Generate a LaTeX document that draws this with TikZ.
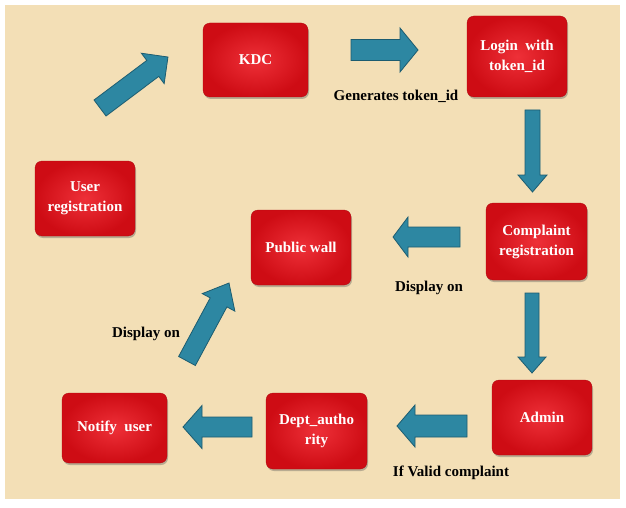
\documentclass[tikz,border=0pt]{standalone}
\usepackage{fontspec}
\setmainfont{Liberation Serif}
\usetikzlibrary{shadows}
\definecolor{bgbeige}{RGB}{243,223,182}
\definecolor{boxredin}{RGB}{238,48,56}
\definecolor{boxredout}{RGB}{206,12,20}
\definecolor{arrowteal}{RGB}{45,135,162}
\definecolor{arrowedge}{RGB}{28,92,112}
\newcommand\barrow[7]{%
  \pgfmathsetmacro\bang{atan2(-(#4-#2),#3-#1)}%
  \pgfmathsetmacro\blen{veclen(#3-#1,#4-#2)}%
  \begin{scope}[shift={(#1,#2)},rotate=\bang]
    \draw[blockarrow] (0,-#5/2) -- (\blen-#7,-#5/2) -- (\blen-#7,-#6/2) -- (\blen,0)
      -- (\blen-#7,#6/2) -- (\blen-#7,#5/2) -- (0,#5/2) -- cycle;
  \end{scope}}
\begin{document}
\begin{tikzpicture}[x=1pt,y=-1pt,
  redbox/.style={rounded corners=7pt, inner color=boxredin, outer color=boxredout,
    draw=boxredout!85!black, line width=0.3pt,
    drop shadow={shadow xshift=1pt,shadow yshift=-2pt,opacity=0.35,fill=black!70},
    text=white, font=\fontsize{15}{20}\selectfont\bfseries, align=center, inner sep=0pt},
  lbl/.style={font=\fontsize{15}{18}\selectfont\bfseries, text=black, inner sep=0pt},
  blockarrow/.style={fill=arrowteal, draw=arrowedge, line width=0.8pt, line join=miter}]
\useasboundingbox (0,0) rectangle (626,508);
\fill[white] (0,0) rectangle (626,508);
\fill[bgbeige] (5,5) rectangle (620,499);

% boxes
\node[redbox, minimum width=105pt, minimum height=74pt] (kdc) at (255.5,60) {KDC};
\node[redbox, minimum width=100pt, minimum height=81pt] (login) at (517,56.5) {Login\ \ with\\token\_id};
\node[redbox, minimum width=100pt, minimum height=75pt] (user) at (85,198.5) {User\\registration};
\node[redbox, minimum width=100pt, minimum height=75pt] (wall) at (301,247.5) {Public wall};
\node[redbox, minimum width=101pt, minimum height=77pt] (compl) at (536.5,241.5) {Complaint\\registration};
\node[redbox, minimum width=100pt, minimum height=75pt] (admin) at (542,417.5) {Admin};
\node[redbox, minimum width=101pt, minimum height=76pt] (dept) at (316.5,431) {Dept\_autho\\rity};
\node[redbox, minimum width=105pt, minimum height=70pt] (notify) at (114.5,428) {Notify\ \ user};

% block arrows
\barrow{100}{108}{168}{57}{20}{38}{19}
\barrow{351}{50}{418}{50}{21}{44}{18}
\barrow{532.5}{110}{532.5}{192}{15}{29}{17}
\barrow{460}{237}{393}{237}{20}{40}{15}
\barrow{532}{293}{532}{373}{14}{28}{16}
\barrow{467}{426}{397}{426}{22}{42}{18}
\barrow{252}{427}{183}{427}{20}{43}{19}
\barrow{187}{361}{229}{283}{19}{37}{22}

% labels
\node[lbl] (lgen) at (396,96) {Generates token\_id};
\node[lbl] (ldisp1) at (429,288) {Display on};
\node[lbl] (ldisp2) at (146,334) {Display on};
\node[lbl] (lvalid) at (451,473) {If Valid complaint};
\end{tikzpicture}
\end{document}
